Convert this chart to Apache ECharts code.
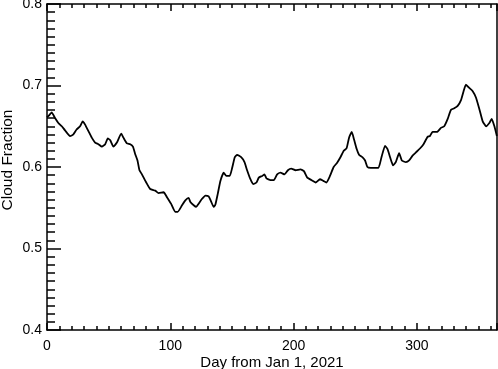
<!DOCTYPE html>
<html>
<head>
<meta charset="utf-8">
<script src="https://cdn.jsdelivr.net/npm/echarts@6/dist/echarts.min.js"></script>
<style>
html,body{margin:0;padding:0;background:#fff;}
#chart{width:498px;height:369px;}
</style>
</head>
<body>
<div id="chart"></div>
<script>
var days = [0, 1.5, 3.8, 6.5, 9.2, 12, 14.6, 18.7, 21.4, 24, 26.8, 29, 30.9, 33.6, 36.3, 39, 41.7, 44.5, 47.2, 49.3, 51.2, 53.9, 56.7, 60.2, 62, 64.8, 67.5, 69.7, 71.5, 73.4, 75, 77, 80.5, 83.7, 87.8, 90.5, 94.6, 97.3, 100.6, 104, 106, 109.5, 112.2, 114.9, 116.3, 119, 121, 123, 125.8, 128.5, 131.1, 133, 135.2, 136.6, 138.5, 140.7, 143.3, 145.5, 148.2, 150.2, 152.3, 154.2, 157.5, 160.2, 162.3, 165, 167.2, 169.9, 171.8, 174.5, 176.4, 178, 181.3, 184, 186.7, 189.4, 192.7, 195.4, 198.1, 201.6, 205.7, 208.4, 211.1, 214.4, 217.9, 221.4, 224.1, 226.6, 229.5, 232.5, 235.2, 238, 240.7, 243, 245, 247.2, 249, 251.2, 253.1, 255.8, 258, 259.9, 262.6, 265.3, 268.9, 271.3, 274.2, 276.2, 278.3, 280.7, 282.9, 285.6, 287.8, 291.1, 293.7, 296.5, 300, 302.7, 305.4, 308.7, 310.6, 312.7, 316.3, 319.5, 322.2, 325, 327.6, 330.3, 333.1, 335.8, 337.9, 339.8, 342.5, 345.3, 348, 350.7, 353.4, 356.1, 358.8, 360.7, 362.9, 364.9];
var cloudFraction = [0.661, 0.663, 0.667, 0.660, 0.654, 0.650, 0.645, 0.638, 0.640, 0.646, 0.650, 0.656, 0.652, 0.644, 0.636, 0.630, 0.628, 0.625, 0.628, 0.635, 0.633, 0.625, 0.630, 0.641, 0.636, 0.629, 0.628, 0.625, 0.616, 0.608, 0.596, 0.591, 0.581, 0.573, 0.571, 0.568, 0.569, 0.563, 0.555, 0.545, 0.545, 0.553, 0.559, 0.562, 0.557, 0.553, 0.551, 0.555, 0.561, 0.565, 0.564, 0.558, 0.551, 0.554, 0.567, 0.583, 0.593, 0.589, 0.589, 0.599, 0.612, 0.615, 0.612, 0.606, 0.596, 0.585, 0.579, 0.581, 0.587, 0.589, 0.591, 0.586, 0.584, 0.584, 0.591, 0.593, 0.591, 0.596, 0.598, 0.596, 0.597, 0.595, 0.587, 0.584, 0.581, 0.585, 0.583, 0.581, 0.589, 0.600, 0.605, 0.612, 0.620, 0.623, 0.636, 0.643, 0.634, 0.622, 0.615, 0.612, 0.608, 0.600, 0.599, 0.599, 0.599, 0.612, 0.626, 0.622, 0.612, 0.602, 0.606, 0.617, 0.608, 0.606, 0.608, 0.614, 0.619, 0.623, 0.628, 0.637, 0.638, 0.643, 0.643, 0.648, 0.650, 0.659, 0.670, 0.672, 0.675, 0.682, 0.693, 0.701, 0.697, 0.693, 0.685, 0.671, 0.656, 0.650, 0.654, 0.659, 0.650, 0.638];
var xTitle = 'Day from Jan 1, 2021';
var yTitle = 'Cloud Fraction';

var FONT = '"Liberation Sans", Arial, Helvetica, sans-serif';
var X_MIN = 0, X_MAX = 365, X_MAJOR = 100, X_MINOR = 10;
var Y_MIN = 0.4, Y_MAX = 0.8, Y_MAJOR = 0.1, Y_MINOR = 0.01;
var points = days.map(function (d, i) { return [d, cloudFraction[i]]; });

function ls() { return {color: '#000', width: 1.5}; }

function mainX(pos, labels) {
  return {
    type: 'value', position: pos, min: X_MIN, max: X_MAX, interval: X_MAJOR,
    name: labels ? xTitle : '', nameLocation: 'middle', nameGap: 25, nameMoveOverlap: false,
    nameTextStyle: {color: '#000', fontSize: 15, fontFamily: FONT},
    axisLine: {show: true, onZero: false, lineStyle: ls()},
    axisTick: {show: false},
    axisLabel: {show: labels, showMaxLabel: false, margin: 9, color: '#000', fontSize: 14, fontFamily: FONT},
    splitLine: {show: false}
  };
}
function tickX(pos, step, len) {
  return {
    type: 'value', position: pos, offset: -len, min: X_MIN, max: X_MAX, interval: step,
    axisLine: {show: false}, axisLabel: {show: false}, splitLine: {show: false},
    axisTick: {show: true, inside: false, length: len, lineStyle: ls()}
  };
}
function mainY(pos, labels) {
  return {
    type: 'value', position: pos, min: Y_MIN, max: Y_MAX, interval: Y_MAJOR,
    name: labels ? yTitle : '', nameLocation: 'middle', nameGap: 31, nameMoveOverlap: false,
    nameTextStyle: {color: '#000', fontSize: 15.5, fontFamily: FONT, padding: [0, 0, 0, 14]},
    axisLine: {show: true, onZero: false, lineStyle: ls()},
    axisTick: {show: false},
    axisLabel: {show: labels, margin: 5, color: '#000', fontSize: 14, fontFamily: FONT,
      formatter: function (v) { return v.toFixed(1); }},
    splitLine: {show: false}
  };
}
function tickY(pos, step, len) {
  return {
    type: 'value', position: pos, offset: -len, min: Y_MIN, max: Y_MAX, interval: step,
    axisLine: {show: false}, axisLabel: {show: false}, splitLine: {show: false},
    axisTick: {show: true, inside: false, length: len, lineStyle: ls()}
  };
}

var chart = echarts.init(document.getElementById('chart'), null, {renderer: 'canvas'});
chart.setOption({
  animation: false,
  backgroundColor: '#fff',
  grid: {left: 47, right: 1, top: 4, bottom: 39, containLabel: false, outerBoundsMode: 'none'},
  xAxis: [
    mainX('bottom', true), tickX('bottom', X_MAJOR, 7), tickX('bottom', X_MINOR, 4),
    mainX('top', false), tickX('top', X_MAJOR, 7), tickX('top', X_MINOR, 4)
  ],
  yAxis: [
    mainY('left', true), tickY('left', Y_MAJOR, 7), tickY('left', Y_MINOR, 4),
    mainY('right', false), tickY('right', Y_MAJOR, 7), tickY('right', Y_MINOR, 4)
  ],
  series: [{
    type: 'line', xAxisIndex: 0, yAxisIndex: 0,
    data: points, showSymbol: false, symbol: 'none', smooth: 0.15,
    lineStyle: {color: '#000', width: 1.8}
  }]
});
</script>
</body>
</html>
